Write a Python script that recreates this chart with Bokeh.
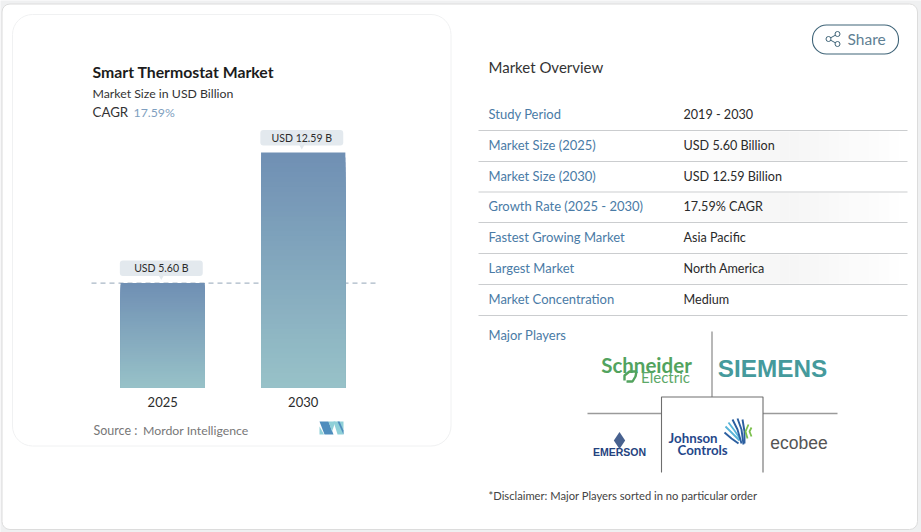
from bokeh.plotting import figure
from bokeh.models import Range1d, LinearAxis, FixedTicker
from bokeh.core.properties import value
from bokeh.embed import file_html
from bokeh.resources import INLINE

# chart values
years = ["2025", "2030"]
market_size = [5.60, 12.59]
value_labels = ["USD 5.60 B", "USD 12.59 B"]

title = "Smart Thermostat Market"
subtitle = "Market Size in USD Billion"
cagr = "17.59%"
source_label = "Source :"
source_name = "Mordor Intelligence"

# right side table
overview_keys = ["Study Period", "Market Size (2025)", "Market Size (2030)", "Growth Rate (2025 - 2030)",
                 "Fastest Growing Market", "Largest Market", "Market Concentration"]
overview_vals = ["2019 - 2030", "USD 5.60 Billion", "USD 12.59 Billion", "17.59% CAGR",
                 "Asia Pacific", "North America", "Medium"]
row_text_y = [114, 145, 176, 206, 237, 268, 299]
row_line_y = [131, 162, 192.5, 223, 254, 285, 316]

FONT = "Lato"
KEY_COL = "#4a7ba6"
TXT_COL = "#2a2a2a"


def mix(a, b, t):
    # blend two rgb tuples
    return "#%02x%02x%02x" % tuple(round(a[i] + (b[i] - a[i]) * t) for i in range(3))


# main frame is in page pixels, the bars get their own ranges
p = figure(width=921, height=532, output_backend="svg", toolbar_location=None,
           x_range=Range1d(1, 922), y_range=Range1d(533, 1),
           min_border=0, min_border_left=0, min_border_right=0, min_border_top=0, min_border_bottom=0)
p.axis.visible = False
p.grid.visible = False
p.outline_line_color = None
p.background_fill_color = "#eff0f1"
p.border_fill_color = "#eff0f1"

x0, dx = 162.2, 140.5
base_px = 387.2
k = 235.2 / 12.59
p.extra_x_ranges["year"] = Range1d((0 - x0) / dx, (921 - x0) / dx)
p.extra_y_ranges["usd"] = Range1d((base_px - 532) / k, (base_px - 0) / k)


def txt(x, y, s, size, color=TXT_COL, style="normal", align="left", font=FONT):
    p.text([x], [y], text=[s], text_font=value(font), text_font_size=value(size), text_color=color,
           text_font_style=style, text_align=align, text_baseline="middle")


# outer card and left card
p.quad(left=2.5, right=918, top=4.5, bottom=530, fill_color="white", line_color="#dcdcdc",
       line_width=1, border_radius=8)
p.quad(left=13, right=451.5, top=15, bottom=446.5, fill_color="white", line_color="#f0f1f2",
       line_width=1, border_radius=20)

txt(93, 72, title, "15.8px", "#1c1c1c", "bold")
txt(93, 93.5, subtitle, "12.3px", "#333333")
txt(93, 112.5, "CAGR", "13.3px", "#333333")
txt(134, 112.5, cagr, "12.3px", "#7f9fc0")

# dashed line at the first bar's value
p.segment(x0=[92], x1=[376], y0=[market_size[0]], y1=[market_size[0]], y_range_name="usd",
          line_color="#a9b8c6", line_width=1.2, line_dash="5 4")

# bars, gradient is stacked from tall to short so no seams show
top_col = (112, 144, 180)
bot_col = (152, 194, 200)
N = 48
for i, v in enumerate(market_size):
    for j in range(N, 0, -1):
        p.vbar(x=[i], width=0.6, bottom=[0], top=[v * j / N], x_range_name="year", y_range_name="usd",
               fill_color=mix(bot_col, top_col, j / N), line_color=None)

# value pills
for i, v in enumerate(market_size):
    p.vbar(x=[i - 0.01], width=0.59, bottom=[v + 7 / k], top=[v + 22.5 / k], x_range_name="year",
           y_range_name="usd", fill_color="#e3e9ee", line_color=None, border_radius=3)
    p.scatter(x=[i - 0.01], y=[v + 6.5 / k], marker="inverted_triangle", size=6, x_range_name="year",
              y_range_name="usd", fill_color="#e3e9ee", line_color=None)
    p.text(x=[i - 0.01], y=[v + 15 / k], text=[value_labels[i]], x_range_name="year", y_range_name="usd",
           text_font=value(FONT), text_font_size=value("10.5px"), text_color="#2b2b2b", text_align="center",
           text_baseline="middle")

# year labels
year_axis = LinearAxis(x_range_name="year", y_range_name="usd", fixed_location=0,
                       ticker=FixedTicker(ticks=[0, 1]),
                       major_label_overrides={i: y for i, y in enumerate(years)})
year_axis.axis_line_color = None
year_axis.major_tick_line_color = None
year_axis.minor_tick_line_color = None
year_axis.major_label_standoff = 3
year_axis.major_label_text_font = FONT
year_axis.major_label_text_font_size = "13px"
year_axis.major_label_text_color = "#2b2b2b"
p.add_layout(year_axis, "below")

txt(94, 430.5, source_label, "12.5px", "#777777")
txt(143.5, 430.5, source_name, "12.3px", "#777777")

# small MN logo
p.patch([320, 329, 334, 325], [422, 422, 435, 435], color="#4f8dbd", line_color=None)
p.patch([320, 320, 324.5], [427, 435, 435], color="#8fd0d8", line_color=None)
p.patch([329, 336, 332.5], [422, 422, 432], color="#8fd0d8", line_color=None)
p.patch([334, 344, 344, 338], [422, 422, 435, 435], color="#8fd0d8", line_color=None)
p.patch([338, 340, 344, 344], [422, 422, 431, 435], color="#4f8dbd", line_color=None)

# share button
p.quad(left=813, right=899, top=25.5, bottom=54.5, fill_color="white", line_color="#3f6478",
       line_width=1.1, border_radius=14)
p.multi_line([[838, 829, 838]], [[34.5, 39.5, 44.5]], line_color="#3f6478", line_width=1)
p.scatter([838, 829, 838], [34.5, 39.5, 44.5], marker="circle", size=5, fill_color="white",
          line_color="#3f6478", line_width=1)
txt(848, 39.5, "Share", "15.5px", "#5f8093")

txt(489, 67, "Market Overview", "15px", "#333333")

# faint shading on alternate rows, small steps so it reads as a soft fade
for r in (1, 3, 5):
    for j in range(24):
        a = 0.038 * (1 - abs(j - 11.5) / 12)
        p.quad(left=670 + j * 10, right=680 + j * 10, top=row_line_y[r - 1] + 0.7, bottom=row_line_y[r] - 0.7,
               fill_color="#000000", fill_alpha=a, line_color=None)

# table rows
p.segment(x0=[479] * len(row_line_y), x1=[908] * len(row_line_y), y0=row_line_y, y1=row_line_y,
          line_color="#cbcdcf", line_width=1)
p.text(x=[489] * len(overview_keys), y=row_text_y, text=overview_keys, text_font=value(FONT),
       text_font_size=value("13px"), text_color=KEY_COL, text_baseline="middle")
p.text(x=[684] * len(overview_vals), y=[y + 0.7 for y in row_text_y], text=overview_vals, text_font=value(FONT),
       text_font_size=value("12.6px"), text_color=TXT_COL, text_baseline="middle")

txt(489, 335.5, "Major Players", "13px", KEY_COL)

# logo grid
p.multi_line([[712.5, 712.5], [588, 662], [763.5, 838]], [[332, 397.5], [414, 414], [414, 414]],
             line_color="#9a9a9a", line_width=1.4)
p.multi_line([[662, 662, 763.5, 763.5]], [[473, 397.5, 397.5, 473]], line_color="#6e6e6e", line_width=1.1)

# logos as text
txt(647, 365, "Schneider", "20.5px", "#52a35e", "bold", "center")
txt(666, 377, "Electric", "15px", "#5ca868", "normal", "center")
p.multi_line([[625, 625, 630, 637], [627, 633, 636, 637]], [[381, 376, 372, 372], [382, 382, 377, 372]],
             line_color="#52a35e", line_width=2.4)
txt(773, 369, "SIEMENS", "24.3px", "#459a9c", "bold", "center", "Liberation Sans")
txt(620, 452.5, "EMERSON", "10.5px", "#24427e", "bold", "center", "Liberation Sans")
p.scatter([620], [441], marker="diamond", size=17, fill_color="#47618f", line_color=None)
txt(669, 438, "Johnson", "13.3px", "#25478a", "bold", "left")
txt(678, 450.5, "Controls", "13.3px", "#25478a", "bold", "left")
txt(799.5, 443, "ecobee", "17.5px", "#555555", "normal", "center", "Liberation Sans")

# johnson controls mark
p.multi_line([[726, 733, 740], [729, 735, 741]], [[427, 434, 441], [423, 431, 440]], line_color="#57b4d8", line_width=1.8)
p.multi_line([[725, 732, 739], [733, 738, 742], [738, 742, 744], [743, 745, 745]],
             [[433, 439, 444], [420, 430, 444], [419, 430, 445], [420, 432, 444]], line_color="#2c5fa0", line_width=1.9)
p.multi_line([[749, 746, 748], [752, 750, 752]], [[425, 432, 439], [428, 432, 437]], line_color="#7cc04e", line_width=1.8)

txt(489, 496, "*Disclaimer: Major Players sorted in no particular order", "11.2px", "#444444")

open("out.html", "w").write(file_html(p, INLINE))
